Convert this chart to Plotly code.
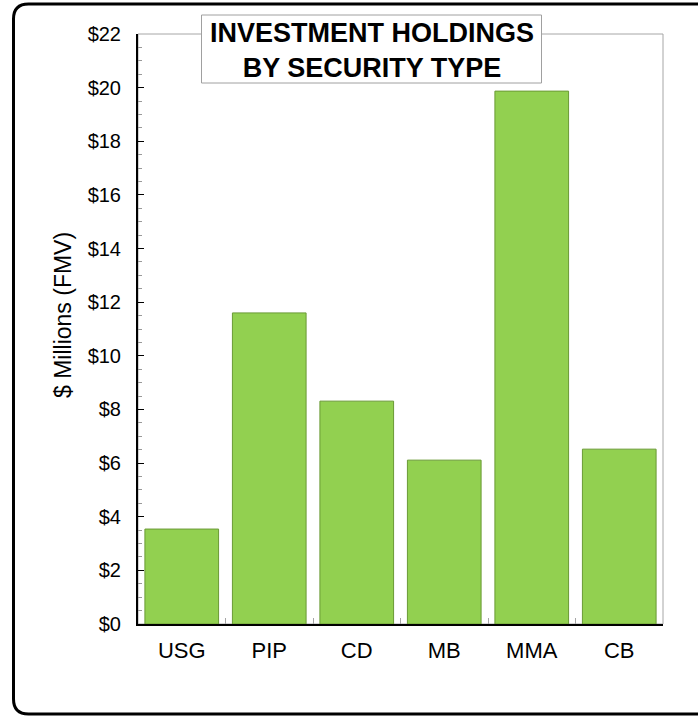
import plotly.graph_objects as go

# Data
categories = ["USG", "PIP", "CD", "MB", "MMA", "CB"]
values = [3.54, 11.6, 8.31, 6.11, 19.87, 6.52]
title_lines = ["INVESTMENT HOLDINGS", "BY SECURITY TYPE"]
y_title = "$ Millions (FMV)"

W, H = 698, 716
L, R, T, B = 138, 35, 34, 92
PW, PH = W - L - R, H - T - B


def px(x):
    return (x - L) / PW


def py(y):
    return (H - B - y) / PH


fig = go.Figure(
    go.Bar(
        x=categories,
        y=values,
        marker=dict(color="#92D050", line=dict(color="#6a9a35", width=1)),
        hoverinfo="x+y",
    )
)

FONT = "Arial, Liberation Sans, sans-serif"

# rounded outer frame (right side runs off the canvas)
xl, xr, yt, yb = px(13.5), px(712), py(4), py(714)
rx, ry = 15 / PW, 15 / PH
frame_path = (
    f"M {xr},{yt} L {xl + rx},{yt} Q {xl},{yt} {xl},{yt - ry} "
    f"L {xl},{yb + ry} Q {xl},{yb} {xl + rx},{yb} L {xr},{yb}"
)

shapes = [
    dict(type="rect", xref="paper", yref="paper", x0=0, x1=1, y0=0, y1=1,
         line=dict(color="#a6a6a6", width=1), layer="below"),
    dict(type="path", xref="paper", yref="paper", path=frame_path,
         line=dict(color="black", width=3)),
    dict(type="rect", xref="paper", yref="paper",
         x0=px(201.5), x1=px(541.5), y0=py(83), y1=py(15),
         fillcolor="white", line=dict(color="#a0a0a0", width=1)),
]

annotations = [
    dict(text="<b>" + "<br>".join(title_lines) + "</b>", xref="paper", yref="paper",
         x=px(371.5), y=py(51), xanchor="center", yanchor="middle", showarrow=False,
         font=dict(family=FONT, size=27, color="black")),
    dict(text=y_title, xref="paper", yref="paper", x=px(63), y=py(315),
         xanchor="center", yanchor="middle", textangle=-90, showarrow=False,
         font=dict(family=FONT, size=23, color="black")),
]

fig.update_layout(
    width=W, height=H,
    margin=dict(l=L, r=R, t=T, b=B, pad=0),
    paper_bgcolor="white", plot_bgcolor="white",
    showlegend=False,
    bargap=0.158,
    font=dict(family=FONT, color="black"),
    shapes=shapes,
    annotations=annotations,
)

fig.update_xaxes(
    showgrid=False, showline=True, linecolor="black", linewidth=2,
    ticks="inside", tickson="boundaries", ticklen=6, tickcolor="#a6a6a6", tickwidth=1,
    tickfont=dict(family=FONT, size=22, color="black"),
    ticklabelstandoff=6,
)

fig.update_yaxes(
    range=[0, 22], dtick=2, tick0=0, tickprefix="$",
    showgrid=False, zeroline=False, showline=True, linecolor="black", linewidth=2,
    ticks="inside", ticklen=6, tickcolor="black", tickwidth=1,
    minor=dict(dtick=0.5, ticks="inside", ticklen=4, tickcolor="#999999", showgrid=False),
    tickfont=dict(family=FONT, size=20, color="black"),
    ticklabelstandoff=11,
)

fig.write_html("out.html")
